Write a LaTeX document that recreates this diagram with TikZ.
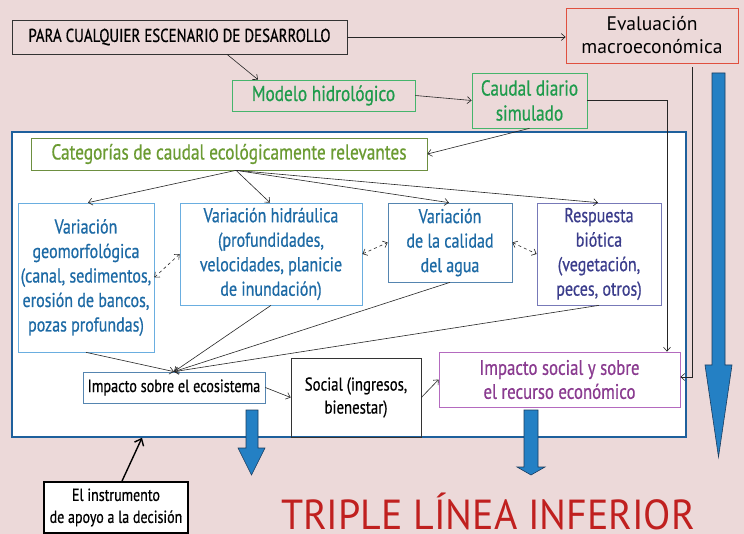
\documentclass[tikz,border=0pt]{standalone}
\usepackage{fontspec}
\setmainfont{PT Sans}[FakeStretch=0.8,FakeBold=0.6]
\newfontfamily\widefont{PT Sans}
\newfontfamily\redfont{PT Sans}[FakeStretch=0.95]
\usetikzlibrary{arrows.meta,calc}
\definecolor{bg}{RGB}{236,217,217}
\definecolor{mainblue}{RGB}{30,96,156}
\definecolor{grtext}{RGB}{31,155,76}
\definecolor{grline}{RGB}{69,181,108}
\definecolor{oltext}{RGB}{107,155,50}
\definecolor{olline}{RGB}{109,143,64}
\definecolor{bltext}{RGB}{29,106,165}
\definecolor{blline}{RGB}{106,174,224}
\definecolor{blline2}{RGB}{85,133,176}
\definecolor{indtext}{RGB}{59,61,140}
\definecolor{indline}{RGB}{119,121,184}
\definecolor{putext}{RGB}{138,59,144}
\definecolor{puline}{RGB}{180,106,191}
\definecolor{evline}{RGB}{224,80,63}
\definecolor{arrowblue}{RGB}{36,128,196}
\definecolor{arrowdark}{RGB}{25,60,95}
\definecolor{redtext}{RGB}{192,32,31}
\tikzset{
  box/.style={draw, inner sep=0pt, align=center, line width=0.7pt},
  txt/.style={font=\fontsize{20}{24.5}\selectfont},
  gtxt/.style={font=\fontsize{21.6}{25}\selectfont},
  stxt/.style={font=\fontsize{17.5}{22}\selectfont},
  arr/.style={-{Straight Barb[length=4pt,width=7pt]}, line width=0.6pt, draw=black!85},
  darr/.style={{Straight Barb[length=4pt,width=7pt]}-{Straight Barb[length=4pt,width=7pt]}, dashed, line width=0.6pt, draw=black!85},
  bigarrow/.style={fill=arrowblue, draw=arrowdark, line width=0.6pt}
}
\begin{document}
\begin{tikzpicture}[x=1pt,y=-1pt]
\fill[bg] (0,0) rectangle (744,534);
\useasboundingbox (0,0) rectangle (744,534);
% main white box
\node[draw=mainblue, fill=white, line width=1.5pt, minimum width=674, minimum height=305, inner sep=0pt] (main) at (349,284.5) {};
% top nodes
\node[box, draw=black!80, font=\fontsize{18.6}{22}\selectfont, minimum width=335, minimum height=34] (para) at (179.5,37) {PARA CUALQUIER ESCENARIO DE DESARROLLO};
\node[box, draw=grline, text=grtext, gtxt, minimum width=183, minimum height=31] (modelo) at (323.5,95.5) {Modelo hidrológico};
\node[box, draw=grline, text=grtext, gtxt, minimum width=115, minimum height=55] (caudal) at (529.5,100.5) {Caudal diario\\simulado};
\node[box, draw=evline, font=\widefont\fontsize{19.6}{23}\selectfont, minimum width=172, minimum height=55] (eval) at (652,35.5) {Evaluación\\macroeconómica};
% inside nodes
\node[box, draw=olline, text=oltext, gtxt, minimum width=396, minimum height=32] (cat) at (229,154) {Categorías de caudal ecológicamente relevantes};
\node[box, draw=blline, text=bltext, txt, minimum width=136, minimum height=149] (geo) at (86,277.5) {Variación\\geomorfológica\\(canal, sedimentos,\\erosión de bancos,\\pozas profundas)};
\node[box, draw=blline, text=bltext, txt, minimum width=182, minimum height=102] (hidr) at (271,254) {Variación hidráulica\\(profundidades,\\velocidades, planicie\\de inundación)};
\node[box, draw=blline2, text=bltext, txt, minimum width=124, minimum height=79] (calidad) at (450,242.5) {Variación\\de la calidad\\del agua};
\node[box, draw=indline, text=indtext, txt, minimum width=124, minimum height=102] (biotica) at (599,254) {Respuesta\\biótica\\(vegetación,\\peces, otros)};
\node[box, draw=blline2, font=\fontsize{17.8}{20}\selectfont, minimum width=182, minimum height=31] (impeco) at (174,387.5) {Impacto sobre el ecosistema};
\node[box, draw=black!80, font=\fontsize{18.5}{23}\selectfont, minimum width=130, minimum height=79] (social) at (356,397.5) {Social (ingresos,\\bienestar)};
\node[box, draw=puline, text=putext, font=\fontsize{21}{24}\selectfont, minimum width=241, minimum height=55] (impsoc) at (559.5,379.5) {Impacto social y sobre\\el recurso económico};
\node[box, draw=black, fill=white, line width=1.8pt, stxt, minimum width=144, minimum height=51] (instr) at (116,507.5) {El instrumento\\de apoyo a la decisión};
\node[text=redtext, font=\redfont\fontsize{42}{46}\selectfont, anchor=base, inner sep=0pt, text depth=0pt] (triple) at (488,529) {TRIPLE LÍNEA INFERIOR};
% connectors
\draw[arr] (para.east) -- (para.east -| eval.west);
\draw[arr] ([xshift=47.5pt]para.south) -- ([xshift=-65.5pt]modelo.north);
\draw[arr] (modelo.east) -- (caudal.west);
\draw[arr] (caudal.south) -- (cat.east);
\draw[arr] (caudal.east) -| ([xshift=107.5pt]impsoc.north);
\draw[arr] ([xshift=40pt,yshift=-4pt]eval.south) |- ([yshift=2.5pt]impsoc.east);
\draw[arr] ([xshift=7pt]cat.south) -- ([xshift=2pt]geo.north);
\draw[arr] ([xshift=7pt]cat.south) -- ([xshift=-1pt]hidr.north);
\draw[arr] ([xshift=7pt]cat.south) -- ([xshift=-1pt]calidad.north);
\draw[arr] ([xshift=7pt]cat.south) -- ([xshift=-1pt]biotica.north);
\draw[darr] (geo.east) -- (hidr.west);
\draw[darr] (hidr.east) -- (calidad.west);
\draw[darr] (calidad.east) -- (biotica.west);
\draw[arr] (geo.south) -- (impeco.north);
\draw[arr] (hidr.south) -- (impeco.north);
\draw[arr] (calidad.south) -- (impeco.north);
\draw[arr] (biotica.south) -- (impeco.north);
\draw[arr] (impeco.east) -- (social.west);
\draw[arr] (social.east) -- (impsoc.west);
\draw[-{Straight Barb[length=6pt,width=10pt]}, line width=1.4pt] ([xshift=6pt]instr.north) -- ([xshift=-207pt]main.south);
% big blue arrows
\filldraw[bigarrow] (246,410) -- (258,410) -- (258,448) -- (265,448) -- (251.5,475) -- (238,448) -- (246,448) -- cycle;
\filldraw[bigarrow] (524,410) -- (538,410) -- (538,467) -- (545,467) -- (531,475) -- (517,467) -- (524,467) -- cycle;
\filldraw[bigarrow] (712,73) -- (725,73) -- (725,365) -- (732,365) -- (718.5,457) -- (705,365) -- (712,365) -- cycle;
\end{tikzpicture}
\end{document}
